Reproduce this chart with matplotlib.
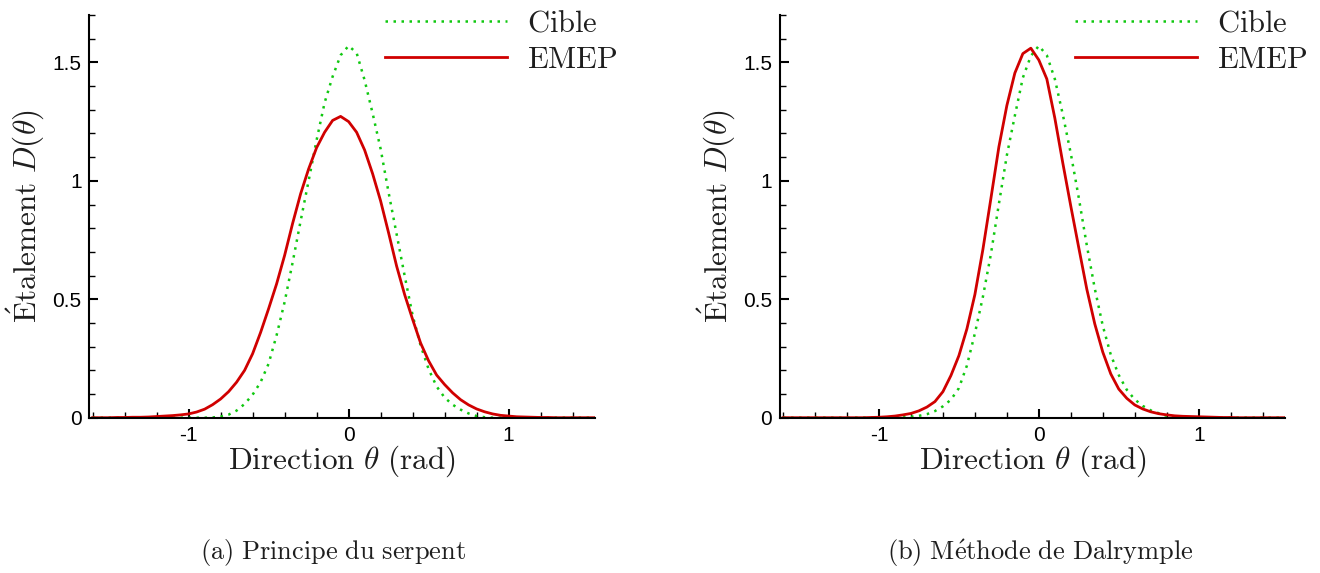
import matplotlib
matplotlib.use('Agg')
import matplotlib.pyplot as plt
from matplotlib.ticker import MultipleLocator

# ---------------- data ----------------
theta = [-1.60, -1.55, -1.50, -1.45, -1.40, -1.35, -1.30, -1.25, -1.20, -1.15,
         -1.10, -1.05, -1.00, -0.95, -0.90, -0.85, -0.80, -0.75, -0.70, -0.65,
         -0.60, -0.55, -0.50, -0.45, -0.40, -0.35, -0.30, -0.25, -0.20, -0.15,
         -0.10, -0.05, 0.00, 0.05, 0.10, 0.15, 0.20, 0.25, 0.30, 0.35,
         0.40, 0.45, 0.50, 0.55, 0.60, 0.65, 0.70, 0.75, 0.80, 0.85,
         0.90, 0.95, 1.00, 1.05, 1.10, 1.15, 1.20, 1.25, 1.30, 1.35,
         1.40, 1.45, 1.50, 1.55]

# target spreading ("Cible"), panel (a)
cible_serpent = [0, 0, 0, 0, 0, 0, 0, 0, 0, 0,
                 0, 0, 0, 0, 0.000, 0.001, 0.005, 0.013, 0.030, 0.058,
                 0.097, 0.150, 0.228, 0.348, 0.488, 0.655, 0.830, 1.000, 1.172, 1.330,
                 1.440, 1.530, 1.570, 1.540, 1.425, 1.285, 1.135, 0.950, 0.775, 0.600,
                 0.432, 0.305, 0.205, 0.132, 0.085, 0.055, 0.034, 0.018, 0.007, 0.002,
                 0.000, 0, 0, 0, 0, 0, 0, 0, 0, 0,
                 0, 0, 0, 0]

# target spreading ("Cible"), panel (b)
cible_dalrymple = [0, 0, 0, 0, 0, 0, 0, 0, 0, 0,
                   0, 0, 0, 0, 0.000, 0.001, 0.004, 0.008, 0.015, 0.028,
                   0.048, 0.076, 0.125, 0.220, 0.356, 0.510, 0.690, 0.902, 1.108, 1.275,
                   1.435, 1.527, 1.570, 1.530, 1.430, 1.280, 1.115, 0.928, 0.728, 0.545,
                   0.388, 0.266, 0.180, 0.118, 0.077, 0.050, 0.031, 0.019, 0.008, 0.003,
                   0.001, 0, 0, 0, 0, 0, 0, 0, 0, 0,
                   0, 0, 0, 0]

emep_serpent = [0.000, 0.000, 0.000, 0.001, 0.001, 0.002, 0.002, 0.003, 0.005, 0.007,
                0.009, 0.012, 0.016, 0.024, 0.036, 0.055, 0.079, 0.110, 0.150, 0.200,
                0.270, 0.360, 0.460, 0.565, 0.685, 0.820, 0.945, 1.050, 1.140, 1.205,
                1.255, 1.272, 1.250, 1.205, 1.130, 1.030, 0.915, 0.780, 0.640, 0.520,
                0.415, 0.315, 0.240, 0.180, 0.140, 0.105, 0.076, 0.054, 0.037, 0.025,
                0.016, 0.010, 0.007, 0.004, 0.003, 0.002, 0.001, 0.001, 0.000, 0.000,
                0.000, 0.000, 0.000, 0.000]

emep_dalrymple = [0.000, 0.000, 0.000, 0.000, 0.000, 0.000, 0.000, 0.000, 0.000, 0.000,
                  0.000, 0.001, 0.002, 0.004, 0.007, 0.012, 0.018, 0.029, 0.045, 0.068,
                  0.110, 0.178, 0.262, 0.375, 0.520, 0.710, 0.925, 1.143, 1.318, 1.455,
                  1.537, 1.560, 1.510, 1.430, 1.265, 1.075, 0.893, 0.717, 0.543, 0.396,
                  0.277, 0.185, 0.121, 0.082, 0.054, 0.037, 0.025, 0.017, 0.012, 0.008,
                  0.006, 0.005, 0.004, 0.003, 0.002, 0.001, 0.001, 0.000, 0.000, 0.000,
                  0.000, 0.000, 0.000, 0.000]

xticks = [-1, 0, 1]
xticklabels = ['-1', '0', '1']
yticks = [0, 0.5, 1, 1.5]
yticklabels = ['0', '0.5', '1', '1.5']

series_labels = [r'$\mathrm{Cible}$', r'$\mathrm{EMEP}$']
xlabel = r'$\mathrm{Direction}\ \theta\ \mathrm{(rad)}$'
ylabel = r'$\mathrm{\acute{E}talement}\ D(\theta)$'
captions = [r'$\mathrm{(a)\ Principe\ du\ serpent}$',
            r'$\mathrm{(b)\ M\acute{e}thode\ de\ Dalrymple}$']

# ---------------- style ----------------
plt.rcParams['mathtext.fontset'] = 'cm'
plt.rcParams['axes.unicode_minus'] = False
plt.rcParams['font.family'] = ['Liberation Sans', 'DejaVu Sans']

GREEN = '#10c810'
RED = '#d00000'
TEXT = '#1e1e1e'

fig = plt.figure(figsize=(13.2, 5.73), dpi=100)
positions = [[0.0677, 0.2710, 0.3831, 0.7028],
             [0.5908, 0.2710, 0.3827, 0.7028]]
caption_x = [333 / 1320, 1040 / 1320]

panels = zip(positions, [cible_serpent, cible_dalrymple],
             [emep_serpent, emep_dalrymple], captions, caption_x)
for pos, cible, emep, cap, cx in panels:
    ax = fig.add_axes(pos)
    ax.plot(theta, cible, color=GREEN, lw=1.8, ls=(0, (1, 2.2)), label=series_labels[0])
    ax.plot(theta, emep, color=RED, lw=2.0, label=series_labels[1])
    ax.set_xlim(-1.62, 1.54)
    ax.set_ylim(0, 1.7)
    for s in ['top', 'right']:
        ax.spines[s].set_visible(False)
    for s in ['left', 'bottom']:
        ax.spines[s].set_linewidth(1.5)
    ax.set_xticks(xticks)
    ax.set_xticklabels(xticklabels)
    ax.set_yticks(yticks)
    ax.set_yticklabels(yticklabels)
    ax.xaxis.set_minor_locator(MultipleLocator(0.2))
    ax.yaxis.set_minor_locator(MultipleLocator(0.1))
    ax.tick_params(which='both', direction='in', labelsize=15, colors='black')
    ax.tick_params(which='major', length=6.7, width=1.5)
    ax.tick_params(which='minor', length=4.0, width=1.0)
    ax.tick_params(axis='x', which='both', pad=6)
    ax.tick_params(axis='y', which='both', pad=5.5)
    ax.set_xlabel(xlabel, fontsize=22.5, color=TEXT, labelpad=-1)
    ax.set_ylabel(ylabel, fontsize=22.5, color=TEXT, labelpad=4)
    leg = ax.legend(loc='upper right', bbox_to_anchor=(1.045, 1.015), frameon=False,
                    fontsize=22, handlelength=4, handletextpad=0.67, labelspacing=0.2,
                    borderpad=0, borderaxespad=0)
    for t in leg.get_texts():
        t.set_color(TEXT)
    fig.text(cx, 1 - 553 / 573, cap, ha='center', va='center', fontsize=19, color=TEXT)

fig.savefig('out.png', dpi=100)
